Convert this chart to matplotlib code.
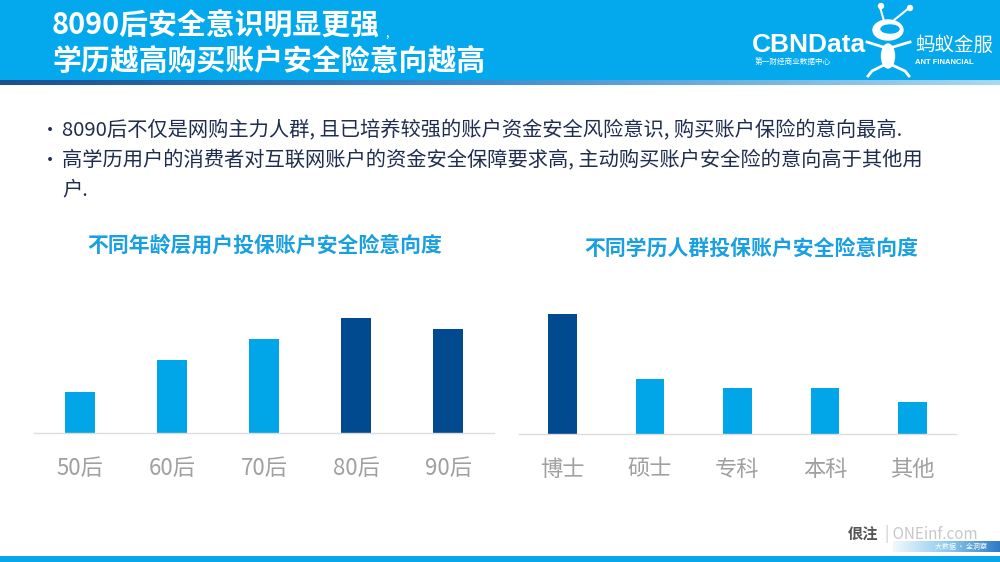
import matplotlib
matplotlib.use("Agg")
import matplotlib.pyplot as plt
import numpy as np
from matplotlib.patches import Rectangle, Ellipse, Circle

plt.rcParams["font.family"] = ["Noto Sans CJK SC", "DejaVu Sans"]

# ---------------------------------------------------------------------------
# Data (relative intention index)
# ---------------------------------------------------------------------------
age_groups = ["50后", "60后", "70后", "80后", "90后"]
age_values = [41, 73, 94, 115, 104]
age_highlight = [False, False, False, True, True]

edu_groups = ["博士", "硕士", "专科", "本科", "其他"]
edu_values = [120, 55, 46, 46, 32]
edu_highlight = [True, False, False, False, False]

title_lines = ["8090后安全意识明显更强", "学历越高购买账户安全险意向越高"]
bullets = [
    ["8090后不仅是网购主力人群, 且已培养较强的账户资金安全风险意识, 购买账户保险的意向最高."],
    ["高学历用户的消费者对互联网账户的资金安全保障要求高, 主动购买账户安全险的意向高于其他用", "户."],
]
sub_titles = ["不同年龄层用户投保账户安全险意向度", "不同学历人群投保账户安全险意向度"]

LIGHT = "#00a6e8"
DARK = "#024a8f"
HEADER = "#03a9ec"
TEXT = "#1f2d4f"
W, H = 1000, 562

fig = plt.figure(figsize=(10, 5.62), dpi=100)
fig.patch.set_facecolor("white")

# background layer in pixel coordinates
bg = fig.add_axes([0, 0, 1, 1], zorder=0)
bg.set_xlim(0, W)
bg.set_ylim(H, 0)
bg.axis("off")

# header band + gradient strip
bg.add_patch(Rectangle((0, 0), W, 81, color=HEADER, lw=0))
grad = np.linspace(0, 1, 256).reshape(1, -1)
cmap_strip = matplotlib.colors.LinearSegmentedColormap.from_list("s", ["#1b4f8e", "#3f8fd0", "#a8d8f2"])
bg.imshow(grad, extent=[0, W, 85, 80], cmap=cmap_strip, aspect="auto", zorder=1)

bg.text(52, 26, title_lines[0], color="white", fontsize=20.8, fontweight="bold", va="center", ha="left")
bg.text(385, 34, ",", color="white", fontsize=9, va="center", ha="left")
bg.text(52, 62, title_lines[1], color="white", fontsize=20.8, fontweight="bold", va="center", ha="left")

# logos
bg.text(752, 45, "CBNData", color="white", fontsize=19, fontweight="bold",
        family=["Liberation Sans", "DejaVu Sans"], va="center", ha="left")
bg.text(755, 62, "第一财经商业数据中心", color="white", fontsize=5.5, va="center", ha="left")
# simple ant mark
bg.add_patch(Ellipse((888, 30), 30, 20, color="white", zorder=3))
bg.add_patch(Ellipse((890, 29), 18, 8, color=HEADER, zorder=4))
bg.add_patch(Ellipse((888, 56), 13, 24, color="white", zorder=3))
bg.plot([884, 880], [21, 7], color="white", lw=1.5, zorder=3)
bg.plot([893, 909], [21, 8], color="white", lw=1.5, zorder=3)
bg.add_patch(Circle((881, 6), 2.5, color="white", zorder=3))
bg.add_patch(Circle((910, 8), 2.5, color="white", zorder=3))
bg.plot([883, 867], [47, 42], color="white", lw=2, zorder=3)
bg.plot([893, 910], [47, 42], color="white", lw=2, zorder=3)
bg.plot([884, 872, 868], [65, 71, 76], color="white", lw=2, zorder=3)
bg.plot([892, 905, 909], [65, 71, 76], color="white", lw=2, zorder=3)
bg.text(915, 45, "蚂蚁金服", color="white", fontsize=14, va="center", ha="left")
bg.text(915, 62, "ANT FINANCIAL", color="white", fontsize=5.5, fontweight="bold",
        family=["Liberation Sans", "DejaVu Sans"], va="center", ha="left")

# bullet text
line_y = [[131], [161, 190]]
for ys, lines in zip(line_y, bullets):
    bg.text(41, ys[0], "•", color=TEXT, fontsize=13, va="center", ha="left")
    for y, txt in zip(ys, lines):
        bg.text(62, y, txt, color=TEXT, fontsize=14.6, va="center", ha="left")

# footer
bg.imshow(grad, extent=[893, W, 552, 541],
          cmap=matplotlib.colors.LinearSegmentedColormap.from_list("f", ["#f2f9fd", "#8fcbee", "#2f7cc4"]),
          aspect="auto", zorder=1)
bg.add_patch(Rectangle((0, 556), W, 6, color="#0aa6ea", lw=0))
bg.text(848, 535, "佷注", color="#555555", fontsize=11, fontweight="bold", va="center", ha="left")
bg.text(885, 534, "| ONEinf.com", color="#c8c8c8", fontsize=11, va="center", ha="left")
bg.text(935, 547, "大数据 • 全洞察", color="white", fontsize=5, va="center", ha="left")


def bar_panel(rect, labels, values, highlight, title, title_xy):
    ax = fig.add_axes(rect, zorder=2)
    ax.set_facecolor("none")
    colors = [DARK if h else LIGHT for h in highlight]
    x = np.arange(len(labels))
    ax.bar(x, values, width=0.326, color=colors)
    ax.set_xlim(-0.5, len(labels) - 0.5)
    ax.set_ylim(0, 130)
    for s in ("top", "right", "left"):
        ax.spines[s].set_visible(False)
    ax.spines["bottom"].set_color("#dcdcdc")
    ax.spines["bottom"].set_linewidth(1)
    ax.set_yticks([])
    ax.set_xticks(x, labels)
    ax.tick_params(axis="x", length=0, pad=17, labelsize=16, labelcolor="#a0a0a0")
    bg.text(title_xy[0], title_xy[1], title, color="#1a9fe0", fontsize=15,
            fontweight="bold", fontstyle="italic", va="center", ha="center")
    return ax


def px_rect(x0, x1, base, top):
    return [x0 / W, (H - base) / H, (x1 - x0) / W, (base - top) / H]


bar_panel(px_rect(34, 494, 433, 303), age_groups, age_values, age_highlight, sub_titles[0], (265, 245))
bar_panel(px_rect(519, 956, 434, 304), edu_groups, edu_values, edu_highlight, sub_titles[1], (751, 248))

fig.savefig("out.png", dpi=100, facecolor="white")
